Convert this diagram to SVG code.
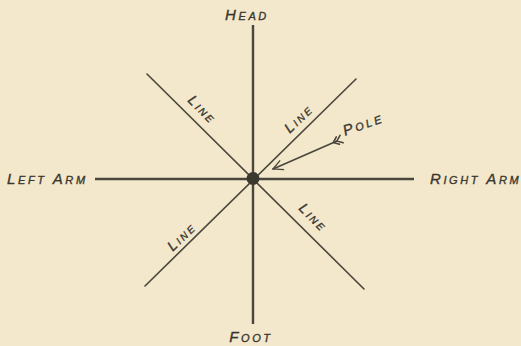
<svg xmlns="http://www.w3.org/2000/svg" width="521" height="346" viewBox="0 0 521 346">
<defs>
<style>
.ln{stroke:#4a463c;stroke-width:1.6;fill:none;stroke-linecap:round}
.axis{stroke:#4a463c;stroke-width:2.4;fill:none}
.t{font-family:"Liberation Sans",Arial,sans-serif;font-style:italic;font-variant:small-caps;fill:#3a362e;font-size:15px;letter-spacing:2.6px;stroke:#3a362e;stroke-width:0.35}
.s{font-size:14px;letter-spacing:2.4px}
</style>
<marker id="ah" viewBox="0 0 12 12" refX="11" refY="6" markerWidth="12" markerHeight="12" markerUnits="userSpaceOnUse" orient="auto">
<path d="M1,1 L11,6 L1,11" fill="none" stroke="#4a463c" stroke-width="1.3"/>
</marker>
</defs>
<rect width="521" height="346" fill="#f3e8cc"/>
<g id="connectors">
<line class="axis" x1="253" y1="25" x2="253" y2="324"/>
<line class="axis" x1="95" y1="179" x2="414" y2="179"/>
<line class="ln" x1="147" y1="74" x2="364" y2="289"/>
<line class="ln" x1="356" y1="79" x2="145" y2="286"/>
<line class="ln" x1="337" y1="141" x2="273" y2="169" marker-end="url(#ah)"/>
<path class="ln" d="M343.2,142.7 L337,141 L340,135.3 M339.5,144.3 L333.3,142.6 L336.3,136.9" stroke-width="1.2"/>
</g>
<g id="pole">
<circle cx="253" cy="178.5" r="6.5" fill="#3b3830"/>
<text class="t" transform="translate(345,136) rotate(-20)">Pole</text>
</g>
<g id="head"><text class="t" x="247" y="20" text-anchor="middle">Head</text></g>
<g id="foot"><text class="t" x="251" y="342" text-anchor="middle">Foot</text></g>
<g id="left-arm"><text class="t" x="7" y="184">Left Arm</text></g>
<g id="right-arm"><text class="t" x="430" y="184">Right Arm</text></g>
<g id="line-ul"><text class="t s" transform="translate(199,113) rotate(45)" text-anchor="middle">Line</text></g>
<g id="line-ur"><text class="t s" transform="translate(302,122) rotate(-44)" text-anchor="middle">Line</text></g>
<g id="line-ll"><text class="t s" transform="translate(185,240) rotate(-44)" text-anchor="middle">Line</text></g>
<g id="line-lr"><text class="t s" transform="translate(310,221) rotate(45)" text-anchor="middle">Line</text></g>
</svg>
